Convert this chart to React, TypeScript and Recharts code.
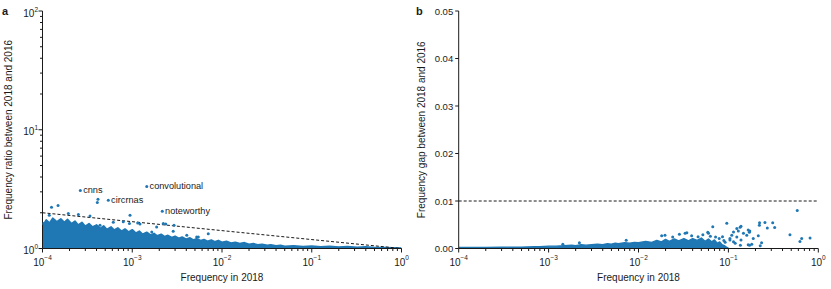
import React from 'react'
import { ComposedChart, Area, Scatter, XAxis, YAxis, ReferenceLine, Label } from 'recharts'

const BLUE = '#1f77b4'
const INK = '#1a1a1a'
const FONT = '"Liberation Sans", Arial, Helvetica, sans-serif'

// shared axis ticks
const FREQ_TICKS = [
  1e-4, 2e-4, 3e-4, 4e-4, 5e-4, 6e-4, 7e-4, 8e-4, 9e-4,
  1e-3, 2e-3, 3e-3, 4e-3, 5e-3, 6e-3, 7e-3, 8e-3, 9e-3,
  1e-2, 2e-2, 3e-2, 4e-2, 5e-2, 6e-2, 7e-2, 8e-2, 9e-2,
  1e-1, 2e-1, 3e-1, 4e-1, 5e-1, 6e-1, 7e-1, 8e-1, 9e-1, 1,
]
const RATIO_TICKS = [1, 2, 3, 4, 5, 6, 7, 8, 9, 10, 20, 30, 40, 50, 60, 70, 80, 90, 100]
const GAP_TICKS = [0, 0.01, 0.02, 0.03, 0.04, 0.05]

// panel a: upper edge of the dense cloud of words
const RATIO_ENV_FREQ = [
  1e-4, 1.1e-4, 1.2e-4, 1.3e-4, 1.45e-4, 1.6e-4, 1.75e-4, 1.9e-4, 2.1e-4, 2.3e-4,
  2.5e-4, 2.75e-4, 3e-4, 3.3e-4, 3.6e-4, 4e-4, 4.4e-4, 4.8e-4, 5.2e-4, 5.8e-4,
  6.3e-4, 6.9e-4, 7.6e-4, 8.3e-4, 9.1e-4, 1e-3, 1.1e-3, 1.2e-3, 1.3e-3, 1.45e-3,
  1.6e-3, 1.75e-3, 1.9e-3, 2.1e-3, 2.3e-3, 2.5e-3, 2.75e-3, 3e-3, 3.3e-3, 3.6e-3,
  4e-3, 4.4e-3, 4.8e-3, 5.2e-3, 5.8e-3, 6.3e-3, 6.9e-3, 7.6e-3, 8.3e-3, 9.1e-3,
  1e-2, 1.12e-2, 1.26e-2, 1.41e-2, 1.58e-2, 1.78e-2, 2e-2, 2.24e-2, 2.5e-2, 2.8e-2,
  3.2e-2, 3.5e-2, 4e-2, 4.5e-2, 5e-2, 6.3e-2, 8e-2, 1e-1, 1.26e-1, 1.58e-1,
  2e-1, 2.5e-1, 3.2e-1, 4e-1, 5e-1, 6.3e-1, 8e-1, 1,
]
const RATIO_ENV_VAL = [
  1.55, 1.74, 1.64, 1.8, 1.68, 1.78, 1.66, 1.76, 1.62, 1.7,
  1.58, 1.66, 1.54, 1.62, 1.52, 1.58, 1.48, 1.55, 1.45, 1.52,
  1.43, 1.49, 1.4, 1.46, 1.38, 1.44, 1.35, 1.4, 1.32, 1.37,
  1.3, 1.34, 1.28, 1.32, 1.26, 1.29, 1.24, 1.27, 1.22, 1.25,
  1.2, 1.23, 1.18, 1.21, 1.17, 1.19, 1.15, 1.18, 1.14, 1.17,
  1.13, 1.15, 1.11, 1.13, 1.1, 1.12, 1.085, 1.1, 1.075, 1.085,
  1.065, 1.075, 1.055, 1.065, 1.045, 1.055, 1.04, 1.05, 1.035, 1.045,
  1.03, 1.04, 1.025, 1.035, 1.02, 1.02, 1.015, 1.01,
]
const RATIO_OUT_FREQ = [
  1.02e-4, 1.19e-4, 1.26e-4, 1.49e-4, 1.94e-4, 2.51e-4, 3.38e-4, 4.08e-4, 4.15e-4, 4.37e-4,
  6.15e-4, 7.94e-4, 9.3e-4, 9.44e-4, 1.15e-3, 1.22e-3, 1.65e-3, 1.87e-3, 2.22e-3, 2.36e-3,
  2.86e-3, 2.92e-3, 4.05e-3, 5.22e-3, 5.45e-3, 7.03e-3,
]
const RATIO_OUT_VAL = [
  1.62, 1.91, 2.23, 2.3, 1.97, 1.93, 1.88, 2.44, 2.6, 1.57,
  1.66, 1.68, 1.62, 1.91, 1.64, 1.61, 1.38, 1.52, 1.62, 1.61,
  1.4, 1.57, 1.29, 1.25, 1.25, 1.33,
]
const NAMED_WORDS = ['cnns', 'circrnas', 'convolutional', 'noteworthy']
const NAMED_FREQ = [2.64e-4, 5.41e-4, 1.45e-3, 2.16e-3]
const NAMED_RATIO = [3.08, 2.55, 3.33, 2.06]
const RATIO_GUIDE = [{ x: 1e-4, y: 2 }, { x: 1, y: 1 }]

// panel b: upper edge of the dense cloud
const GAP_ENV_FREQ = [
  1e-4, 2e-4, 3e-4, 4e-4, 5e-4, 6e-4, 7e-4, 8e-4, 1e-3, 1.2e-3,
  1.5e-3, 1.8e-3, 2e-3, 2.3e-3, 2.6e-3, 3e-3, 3.5e-3, 4e-3, 4.5e-3, 5e-3,
  5.5e-3, 6e-3, 7e-3, 8e-3, 9e-3, 1e-2, 1.2e-2, 1.4e-2, 1.6e-2, 1.8e-2,
  2e-2, 2.2e-2, 2.5e-2, 2.8e-2, 3.2e-2, 3.6e-2, 4e-2, 4.5e-2, 5e-2, 5.5e-2,
  6e-2, 6.5e-2, 7e-2, 7.5e-2, 8e-2, 8.5e-2, 9e-2, 9.5e-2, 1e-1,
]
const GAP_ENV_VAL = [
  0.0002, 0.0002, 0.00025, 0.0003, 0.0003, 0.00035, 0.0004, 0.0004, 0.0005, 0.0005,
  0.0006, 0.0007, 0.0006, 0.0008, 0.0007, 0.0008, 0.0009, 0.0008, 0.001, 0.0009,
  0.0011, 0.001, 0.0012, 0.0011, 0.0013, 0.0012, 0.0015, 0.0013, 0.0017, 0.0014,
  0.0019, 0.0015, 0.002, 0.0016, 0.0021, 0.0016, 0.0021, 0.0017, 0.0022, 0.0015,
  0.002, 0.0014, 0.0018, 0.0011, 0.0014, 0.0008, 0.0006, 0.0003, 0.0001,
]
const GAP_OUT_FREQ = [
  1.44e-3, 2.2e-3, 7.3e-3, 1.81e-2, 1.97e-2, 2.85e-2, 3.3e-2, 3.45e-2, 4.6e-2, 5.9e-2,
  6e-2, 6.7e-2, 8.6e-2, 9.6e-2, 0.104, 0.104, 0.109, 0.114, 0.114, 0.119,
  0.124, 0.124, 0.129, 0.135, 0.136, 0.138, 0.138, 0.147, 0.16, 0.166,
  0.166, 0.171, 0.172, 0.173, 0.182, 0.189, 0.215, 0.221, 0.222, 0.226,
  0.234, 0.255, 0.271, 0.311, 0.327, 0.484, 0.583, 0.625, 0.653, 0.81,
  2.4e-2, 3.9e-2, 5.2e-2, 6.3e-2, 7.2e-2, 7.9e-2, 8.9e-2, 9.2e-2,
]
const GAP_OUT_VAL = [
  0.0009, 0.0012, 0.00175, 0.0027, 0.0028, 0.003, 0.0032, 0.0033, 0.0025, 0.0034,
  0.0032, 0.0046, 0.0025, 0.0053, 0.0018, 0.0021, 0.0028, 0.0035, 0.0014, 0.0011,
  0.0042, 0.0024, 0.0037, 0.0045, 0.0007, 0.0047, 0.0018, 0.0032, 0.0028, 0.0008,
  0.0039, 0.0034, 0.0007, 0.0037, 0.0009, 0.0021, 0.0027, 0.0049, 0.0054, 0.0006,
  0.0012, 0.0055, 0.0043, 0.0054, 0.0044, 0.0029, 0.008, 0.0015, 0.0021, 0.0022,
  0.0024, 0.0027, 0.0029, 0.0026, 0.0024, 0.0021, 0.0017, 0.0013,
]
const GAP_GUIDE = 0.01

const ratioEnv = RATIO_ENV_FREQ.map((x, i) => ({ x, y: RATIO_ENV_VAL[i] }))
const ratioOut = RATIO_OUT_FREQ.map((x, i) => ({ x, y: RATIO_OUT_VAL[i] }))
const named = NAMED_FREQ.map((x, i) => ({ x, y: NAMED_RATIO[i], word: NAMED_WORDS[i] }))
const gapEnv = GAP_ENV_FREQ.map((x, i) => ({ x, y: GAP_ENV_VAL[i] }))
const gapOut = GAP_OUT_FREQ.map((x, i) => ({ x, y: GAP_OUT_VAL[i] }))

const isDecade = (v: number) => Math.abs(Math.log10(v) - Math.round(Math.log10(v))) < 1e-6
const expText = (v: number) => {
  const e = Math.round(Math.log10(v))
  return e < 0 ? `\u2212${-e}` : `${e}`
}

const FreqTick = ({ x, y, payload }: any) => {
  const major = isDecade(payload.value)
  return (
    <g>
      <line x1={x} x2={x} y1={y} y2={y + (major ? 4 : 2.5)} stroke={INK} />
      {major && (
        <text x={x} y={y + 17.2} textAnchor="middle" fontSize={10} fontFamily={FONT} fill={INK}>
          10<tspan dy={-5.5} fontSize={6.5}>{expText(payload.value)}</tspan>
        </text>
      )}
    </g>
  )
}

const RatioTick = ({ x, y, payload }: any) => {
  const major = isDecade(payload.value)
  return (
    <g>
      <line x1={x} x2={x - (major ? 4 : 2.5)} y1={y} y2={y} stroke={INK} />
      {major && (
        <text x={x - 4.5} y={y + 5.5} textAnchor="end" fontSize={10} fontFamily={FONT} fill={INK}>
          10<tspan dy={-5} fontSize={6.5}>{expText(payload.value)}</tspan>
        </text>
      )}
    </g>
  )
}

const GapTick = ({ x, y, payload }: any) => (
  <g>
    <line x1={x} x2={x - 3.5} y1={y} y2={y} stroke={INK} />
    <text x={x - 5.5} y={y + 3.5} textAnchor="end" fontSize={9.5} fontFamily={FONT} fill={INK}>
      {payload.value.toFixed(2)}
    </text>
  </g>
)

const Dot = (p: any) => <circle cx={p.cx} cy={p.cy} r={1.5} fill={BLUE} />

const NamedDot = (p: any) => (
  <g>
    <circle cx={p.cx} cy={p.cy} r={1.5} fill={BLUE} />
    <text x={p.cx + 2.8} y={p.cy + 3} fontSize={9.2} fontFamily={FONT} fill={INK}>{p.payload.word}</text>
  </g>
)

const xTitle = (cx: number) => () => (
  <text x={cx} y={280.5} textAnchor="middle" fontSize={10} fontFamily={FONT} fill={INK}>Frequency in 2018</text>
)

const yTitle = (bx: number, letter: string, lx: number, text: string) => () => (
  <g>
    <text x={lx} y={15} fontSize={11} fontWeight="bold" fontFamily={FONT} fill={INK}>{letter}</text>
    <text transform={`translate(${bx},129.75) rotate(-90)`} textAnchor="middle" fontSize={10} fontFamily={FONT} fill={INK}>
      {text}
    </text>
  </g>
)

const layer: React.CSSProperties = { position: 'absolute', left: 0, top: 0 }

export default function App() {
  return (
    <div style={{ position: 'absolute', left: 0, top: 0, width: 831, height: 289, background: '#fff' }}>
      {/* a: ratio */}
      <div style={layer}>
        <ComposedChart width={831} height={289} margin={{ top: 11, right: 429.5, bottom: 0, left: 0 }}>
          <XAxis dataKey="x" type="number" scale="log" domain={[1e-4, 1]} allowDataOverflow ticks={FREQ_TICKS}
            interval={0} tickSize={0} tickMargin={0} tickLine={false} tick={<FreqTick />} height={40.5}
            axisLine={{ stroke: INK }}>
            <Label content={xTitle(222)} />
          </XAxis>
          <YAxis type="number" scale="log" domain={[1, 100]} allowDataOverflow ticks={RATIO_TICKS}
            interval={0} tickSize={0} tickMargin={0} tickLine={false} tick={<RatioTick />} width={42.5}
            axisLine={{ stroke: INK }}>
            <Label content={yTitle(11.5, 'a', 2, 'Frequency ratio between 2018 and 2016')} />
          </YAxis>
          <Area data={ratioEnv} dataKey="y" type="linear" baseValue={1} stroke={BLUE} strokeWidth={1.6}
            strokeLinejoin="round" fill={BLUE} fillOpacity={1} dot={false} activeDot={false} isAnimationActive={false} />
          <Scatter data={ratioOut} dataKey="y" shape={Dot} isAnimationActive={false} />
          <Scatter data={named} dataKey="y" shape={NamedDot} isAnimationActive={false} />
          <ReferenceLine segment={RATIO_GUIDE} stroke={INK} strokeDasharray="3 2" strokeWidth={1} />
        </ComposedChart>
      </div>

      {/* b: gap */}
      <div style={layer}>
        <ComposedChart width={831} height={289} margin={{ top: 11, right: 12.7, bottom: 0, left: 0 }}>
          <XAxis dataKey="x" type="number" scale="log" domain={[1e-4, 1]} allowDataOverflow ticks={FREQ_TICKS}
            interval={0} tickSize={0} tickMargin={0} tickLine={false} tick={<FreqTick />} height={40.5}
            axisLine={{ stroke: INK }}>
            <Label content={xTitle(638.5)} />
          </XAxis>
          <YAxis type="number" domain={[0, 0.05]} allowDataOverflow ticks={GAP_TICKS}
            interval={0} tickSize={0} tickMargin={0} tickLine={false} tick={<GapTick />} width={458.7}
            axisLine={{ stroke: INK }}>
            <Label content={yTitle(424.5, 'b', 416, 'Frequency gap between 2018 and 2016')} />
          </YAxis>
          <Area data={gapEnv} dataKey="y" type="linear" baseValue={0} stroke={BLUE} strokeWidth={1.4}
            strokeLinejoin="round" fill={BLUE} fillOpacity={1} dot={false} activeDot={false} isAnimationActive={false} />
          <Scatter data={gapOut} dataKey="y" shape={Dot} isAnimationActive={false} />
          <ReferenceLine y={GAP_GUIDE} stroke={INK} strokeDasharray="3 2" strokeWidth={1} />
        </ComposedChart>
      </div>
    </div>
  )
}
